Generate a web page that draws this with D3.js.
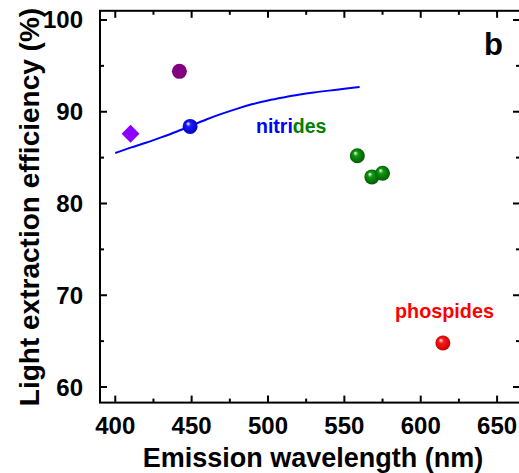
<!DOCTYPE html>
<html><head><meta charset="utf-8">
<script src="https://cdn.jsdelivr.net/npm/d3@7"></script>
<style>body{margin:0;background:#fff}svg{display:block}text{font-family:"Liberation Sans",Arial,sans-serif;font-weight:bold}</style>
</head><body><svg id="c" width="519" height="473"></svg>
<script>
// Data
const curveWavelength = [400,410,420,430,440,450,460,470,480,490,500,510,520,530,540,550,560];
const curveEfficiency = [85.5,86.1,86.6,87.2,87.8,88.5,89.2,89.8,90.35,90.85,91.25,91.55,91.85,92.1,92.3,92.5,92.7];
const purplePoint = {wl: 442, eff: 94.4};
const violetDiamond = {wl: 410, eff: 87.6};
const bluePoint = {wl: 449, eff: 88.4};
const greenWavelength = [558.5, 568, 575];
const greenEfficiency = [85.2, 82.9, 83.3];
const redPoint = {wl: 614.5, eff: 64.8};
const xTicks = [400,450,500,550,600,650];
const yTicks = [60,70,80,90,100];

const svg = d3.select("#c");
const x = d3.scaleLinear().domain([390,665]).range([100,520]);
const y = d3.scaleLinear().domain([58.3,101]).range([402.6,10.8]);
const defs = svg.append("defs");
function sphereGrad(id, base, dark){
  const g = defs.append("radialGradient").attr("id",id).attr("cx","50%").attr("cy","50%").attr("r","55%").attr("fx","35%").attr("fy","30%");
  g.append("stop").attr("offset","0%").attr("stop-color","#fff");
  g.append("stop").attr("offset","30%").attr("stop-color",base);
  g.append("stop").attr("offset","100%").attr("stop-color",dark);
}
sphereGrad("gBlue","#1a1aff","#0000b0");
sphereGrad("gGreen","#119911","#005500");
sphereGrad("gRed","#ff1a1a","#c00000");

const [x0,x1] = x.range(), [yb,yt] = y.range();
const minorX = d3.range(400,665,25), minorY = d3.range(60,101,5);
const ax = svg.append("g").attr("stroke","#000").attr("stroke-width",2);
ax.append("rect").attr("x",x0).attr("y",yt).attr("width",x1-x0).attr("height",yb-yt).attr("fill","none");
minorX.forEach(v=>{
  const L = (v%50===0)?7:4;
  ax.append("line").attr("x1",x(v)).attr("x2",x(v)).attr("y1",yb).attr("y2",yb-L);
  ax.append("line").attr("x1",x(v)).attr("x2",x(v)).attr("y1",yt).attr("y2",yt+L);
});
minorY.forEach(v=>{
  const L = (v%10===0)?7:4;
  ax.append("line").attr("y1",y(v)).attr("y2",y(v)).attr("x1",x0).attr("x2",x0+L);
  ax.append("line").attr("y1",y(v)).attr("y2",y(v)).attr("x1",x1).attr("x2",x1-L);
});
svg.append("g").selectAll("text").data(xTicks).join("text")
  .attr("x",d=>x(d)).attr("y",434).attr("text-anchor","middle").attr("font-size",24).text(d=>d);
svg.append("g").selectAll("text").data(yTicks).join("text")
  .attr("x",83).attr("y",d=>y(d)+8.5).attr("text-anchor","end").attr("font-size",24).text(d=>d);

svg.append("text").attr("x",313).attr("y",467).attr("text-anchor","middle").attr("font-size",27).text("Emission wavelength (nm)");
svg.append("text").attr("transform","translate(39,207) rotate(-90)").attr("text-anchor","middle").attr("font-size",28).text("Light extraction efficiency (%)");

// curve
const line = d3.line().x(d=>x(d[0])).y(d=>y(d[1])).curve(d3.curveBasis);
svg.append("path").datum(curveWavelength.map((w,i)=>[w,curveEfficiency[i]]))
  .attr("d",line).attr("fill","none").attr("stroke","#0000ff").attr("stroke-width",2);

// points
svg.append("circle").attr("cx",x(purplePoint.wl)).attr("cy",y(purplePoint.eff)).attr("r",7.5).attr("fill","#800080");
svg.append("path").attr("d",d3.symbol(d3.symbolSquare,160)())
  .attr("transform",`translate(${x(violetDiamond.wl)},${y(violetDiamond.eff)}) rotate(45)`).attr("fill","#8b00ff");
svg.append("circle").attr("cx",x(bluePoint.wl)).attr("cy",y(bluePoint.eff)).attr("r",7.5).attr("fill","url(#gBlue)");
svg.append("g").selectAll("circle").data(greenWavelength.map((w,i)=>[w,greenEfficiency[i]])).join("circle")
  .attr("cx",d=>x(d[0])).attr("cy",d=>y(d[1])).attr("r",7.5).attr("fill","url(#gGreen)");
svg.append("circle").attr("cx",x(redPoint.wl)).attr("cy",y(redPoint.eff)).attr("r",7.5).attr("fill","url(#gRed)");

// labels
const t = svg.append("text").attr("x",256).attr("y",133).attr("font-size",19.5);
t.append("tspan").attr("fill","#0000ff").text("nitri");
t.append("tspan").attr("fill","#008000").text("des");
svg.append("text").attr("x",395).attr("y",318).attr("font-size",19.8).attr("fill","#ff0000").text("phospides");
svg.append("text").attr("x",484).attr("y",55).attr("font-size",31).attr("fill","#000").text("b");
</script></body></html>
